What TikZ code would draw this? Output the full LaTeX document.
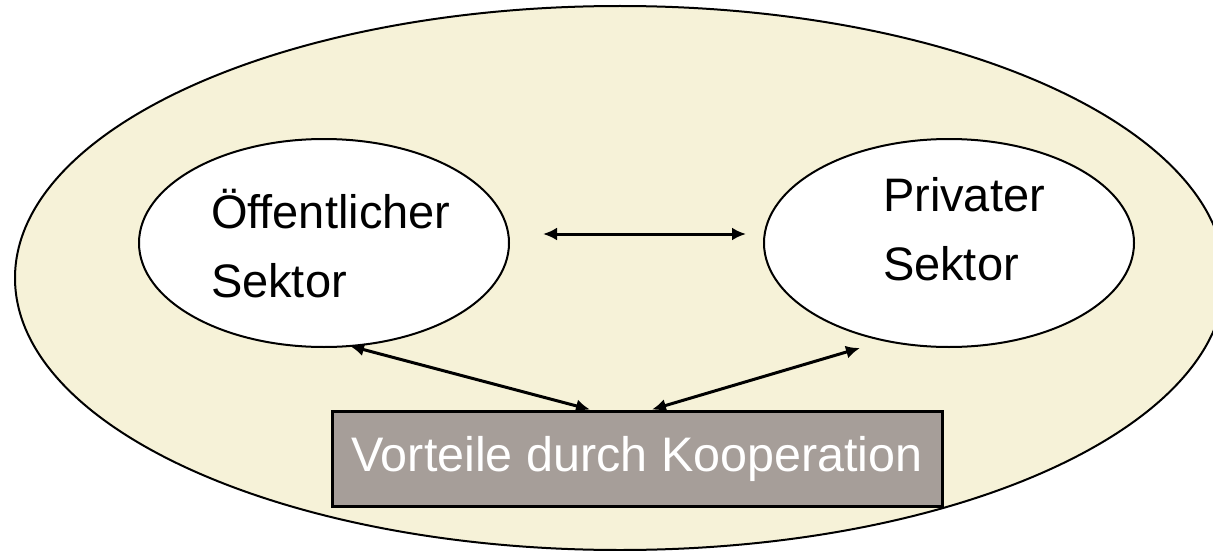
\documentclass[tikz,border=0pt]{standalone}
\usepackage{fontspec}
\setmainfont{Liberation Sans}
\usetikzlibrary{shapes.geometric, arrows.meta}
\definecolor{sand}{RGB}{246,242,216}
\definecolor{taupe}{RGB}{166,158,153}
\begin{document}
\begin{tikzpicture}[x=1pt, y=-1pt, line width=2pt,
    sector/.style = {draw, ellipse, fill=white, minimum width=370pt, minimum height=208pt},
    sectortext/.style = {align=left, inner sep=0pt, font=\fontsize{47}{69}\selectfont},
    benefit/.style = {draw, line width=3pt, fill=taupe, text=white, minimum width=610pt, minimum height=95pt, font=\fontsize{48.5}{58}\selectfont},
    link/.style = {line width=3pt, {Latex[length=14pt,width=13pt]}-{Latex[length=14pt,width=13pt]}}]
    \useasboundingbox (0,0) rectangle (1213,551);
    \clip (0,0) rectangle (1213,551);
    % outer field
    \draw[fill=sand] (620,278) ellipse [x radius=605, y radius=272];
    \node[sector] (pub) at (324,243) {};
    \node[sector] (priv) at (949,243) {};
    \node[sectortext, anchor=base west] (pubtext) at (210,297) {Öffentlicher\\Sektor};
    \node[sectortext, anchor=base west] (privtext) at (882,280) {Privater\\Sektor};
    \node[benefit] (coop) at (637,458.5) {Vorteile durch Kooperation};
    \draw[link] ([shift={(33,-9)}]pub.east) -- ([shift={(-17,-9)}]priv.west);
    \draw[link] ([shift={(26,-2)}]pub.south) -- ([xshift=-47pt]coop.north);
    \draw[link] ([xshift=15pt]coop.north) -- ([shift={(-89,0)}]priv.south);
\end{tikzpicture}
\end{document}
